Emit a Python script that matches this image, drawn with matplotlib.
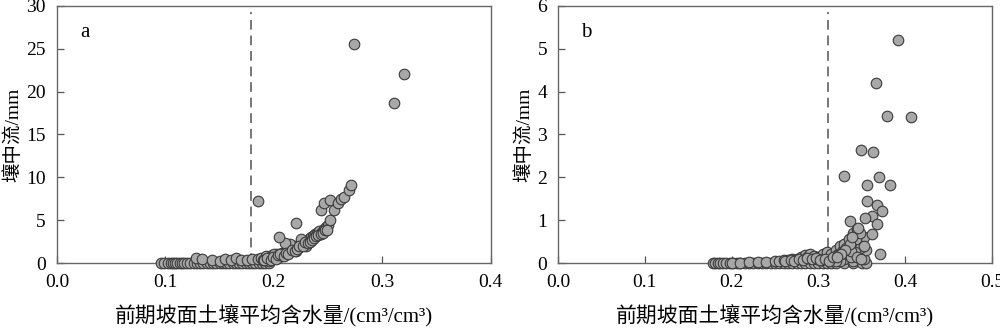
import matplotlib
matplotlib.use("Agg")
import matplotlib.pyplot as plt

plt.rcParams['font.family'] = ['Liberation Serif', 'Noto Sans CJK SC']
plt.rcParams['axes.unicode_minus'] = False

# panel a: antecedent soil moisture vs interflow
a_x = [0.096, 0.099, 0.102, 0.105, 0.107, 0.109, 0.111, 0.113, 0.115, 0.117,
       0.120, 0.123, 0.126, 0.129, 0.132, 0.135, 0.138, 0.141, 0.144, 0.147,
       0.150, 0.153, 0.156, 0.159, 0.162, 0.165, 0.168, 0.171, 0.174, 0.177,
       0.180, 0.183, 0.186, 0.189, 0.192, 0.195,
       0.128, 0.134, 0.143, 0.150, 0.155, 0.160, 0.165, 0.170, 0.175, 0.180,
       0.185, 0.188, 0.190, 0.193, 0.196, 0.198, 0.200, 0.203, 0.205, 0.207,
       0.210, 0.212, 0.214, 0.216, 0.218, 0.220, 0.222, 0.224, 0.226, 0.228,
       0.230, 0.232, 0.234, 0.236, 0.238, 0.240, 0.242, 0.244, 0.246, 0.248,
       0.250, 0.252, 0.215, 0.210, 0.225, 0.200, 0.195, 0.220, 0.230,
       0.191, 0.194, 0.197, 0.199, 0.202, 0.204, 0.206, 0.209, 0.211, 0.213,
       0.217, 0.219, 0.221, 0.223, 0.227, 0.229, 0.231, 0.233, 0.235, 0.237,
       0.239, 0.241, 0.243, 0.245, 0.247, 0.249,
       0.185, 0.205, 0.220, 0.243, 0.246, 0.2515, 0.255, 0.259, 0.262, 0.265,
       0.269, 0.271, 0.274, 0.311, 0.320]
a_y = [0, 0, 0, 0, 0, 0, 0, 0, 0, 0,
       0, 0, 0, 0, 0, 0, 0, 0, 0, 0,
       0, 0, 0, 0, 0, 0, 0, 0, 0, 0,
       0, 0, 0, 0, 0, 0,
       0.6, 0.5, 0.3, 0.2, 0.5, 0.3, 0.6, 0.3, 0.4, 0.5,
       0.5, 0.6, 0.3, 0.8, 0.5, 0.9, 0.6, 1.0, 0.7, 1.2,
       1.0, 1.5, 1.3, 1.8, 1.6, 2.0, 1.8, 2.2, 2.4, 2.2,
       2.6, 2.8, 3.0, 3.2, 3.4, 3.5, 3.7, 3.6, 4.0, 4.2,
       4.4, 5.0, 2.2, 2.3, 2.8, 1.1, 0.2, 1.4, 2.0,
       0.4, 0.6, 0.3, 0.7, 0.5, 0.9, 1.1, 0.8, 1.2, 1.1,
       1.5, 1.4, 1.6, 2.0, 2.0, 2.4, 2.3, 2.5, 2.7, 2.9,
       3.1, 3.3, 3.4, 3.5, 3.8, 3.9,
       7.2, 3.0, 4.7, 6.2, 7.0, 7.4, 6.2, 7.0, 7.5, 7.7,
       8.5, 9.1, 25.5, 18.7, 22.1]

# panel b
b_x = [0.178, 0.181, 0.184, 0.187, 0.190, 0.194, 0.198, 0.202, 0.206, 0.210,
       0.215, 0.220, 0.225, 0.230, 0.235, 0.240, 0.245, 0.250, 0.255, 0.260,
       0.265, 0.270, 0.275, 0.280, 0.285, 0.290, 0.295, 0.300, 0.305, 0.310,
       0.315, 0.320, 0.330, 0.340, 0.350, 0.355,
       0.200, 0.210, 0.220, 0.230, 0.240, 0.250, 0.255, 0.260, 0.265, 0.270,
       0.275, 0.280, 0.283, 0.285, 0.288, 0.290, 0.293, 0.295, 0.298, 0.300,
       0.303, 0.305, 0.308, 0.310, 0.313, 0.315, 0.318, 0.320, 0.323, 0.325,
       0.328, 0.330, 0.333, 0.335, 0.338, 0.340, 0.342, 0.345, 0.347, 0.340,
       0.345, 0.350, 0.350, 0.352, 0.355, 0.330, 0.335, 0.340, 0.345, 0.348,
       0.325, 0.320, 0.342, 0.352, 0.338,
       0.262, 0.268, 0.272, 0.278, 0.282, 0.287, 0.292, 0.297, 0.302, 0.307,
       0.312, 0.317, 0.322, 0.327, 0.332, 0.337, 0.343, 0.348, 0.353, 0.344,
       0.349, 0.336, 0.331, 0.326, 0.321,
       0.392, 0.366, 0.379, 0.407, 0.349, 0.363, 0.329, 0.370, 0.356, 0.382,
       0.356, 0.368, 0.373, 0.362, 0.354, 0.336, 0.367, 0.346, 0.362, 0.339,
       0.371]
b_y = [0, 0, 0, 0, 0, 0, 0, 0, 0, 0,
       0, 0, 0, 0, 0, 0, 0, 0, 0, 0,
       0, 0, 0, 0, 0, 0, 0, 0, 0, 0,
       0, 0, 0, 0, 0, 0,
       0.01, 0.01, 0.02, 0.02, 0.03, 0.05, 0.05, 0.06, 0.08, 0.10,
       0.10, 0.13, 0.15, 0.18, 0.16, 0.20, 0.12, 0.17, 0.10, 0.14,
       0.08, 0.20, 0.12, 0.25, 0.15, 0.22, 0.10, 0.30, 0.20, 0.40,
       0.30, 0.45, 0.25, 0.55, 0.35, 0.70, 0.45, 0.80, 0.60, 0.40,
       0.30, 0.50, 0.20, 0.10, 0.30, 0.10, 0.20, 0.05, 0.15, 0.35,
       0.05, 0.05, 0.25, 0.60, 0.15,
       0.04, 0.06, 0.05, 0.09, 0.07, 0.11, 0.09, 0.12, 0.06, 0.10,
       0.05, 0.13, 0.18, 0.25, 0.35, 0.28, 0.55, 0.70, 0.40, 0.15,
       0.10, 0.45, 0.30, 0.20, 0.15,
       5.2, 4.2, 3.43, 3.4, 2.63, 2.58, 2.02, 2.0, 1.82, 1.82,
       1.45, 1.35, 1.22, 1.1, 1.05, 0.97, 0.92, 0.82, 0.68, 0.6,
       0.22]

a_threshold = 0.179
b_threshold = 0.311

fig, axes = plt.subplots(1, 2, figsize=(10, 3.28), dpi=100)
plt.subplots_adjust(left=0.057, right=0.992, bottom=0.198, top=0.982, wspace=0.155)

panels = [
    (axes[0], a_x, a_y, a_threshold, (0, 0.4), [0.0, 0.1, 0.2, 0.3, 0.4], (0, 30), [0, 5, 10, 15, 20, 25, 30], 'a'),
    (axes[1], b_x, b_y, b_threshold, (0, 0.5), [0.0, 0.1, 0.2, 0.3, 0.4, 0.5], (0, 6), [0, 1, 2, 3, 4, 5, 6], 'b'),
]

for ax, xs, ys, thr, xlim, xticks, ylim, yticks, tag in panels:
    ax.scatter(xs, ys, s=58, c='#a8a8a8', edgecolors='#3a3a3a', linewidths=0.8,
               clip_on=False, zorder=3)
    ax.axvline(thr, ymin=0, ymax=0.975, color='#777777', linestyle=(0, (5, 3)),
               linewidth=1.4, zorder=2)
    ax.set_xlim(*xlim)
    ax.set_ylim(*ylim)
    ax.set_xticks(xticks)
    ax.set_yticks(yticks)
    ax.set_xticklabels([f"{t:.1f}" for t in xticks])
    ax.tick_params(direction='in', length=5, width=0.9, color='#555555',
                   labelsize=14, pad=8)
    for sp in ax.spines.values():
        sp.set_color('#666666')
        sp.set_linewidth(1.0)
    ax.set_xlabel('前期坡面土壤平均含水量/(cm³/cm³)', fontsize=15, labelpad=10)
    ax.set_ylabel('壤中流/mm', fontsize=14, labelpad=3)
    ax.text(0.053, 0.895, tag, transform=ax.transAxes, fontsize=15,
            ha='left', va='center')

fig.savefig('out.png', dpi=100)
